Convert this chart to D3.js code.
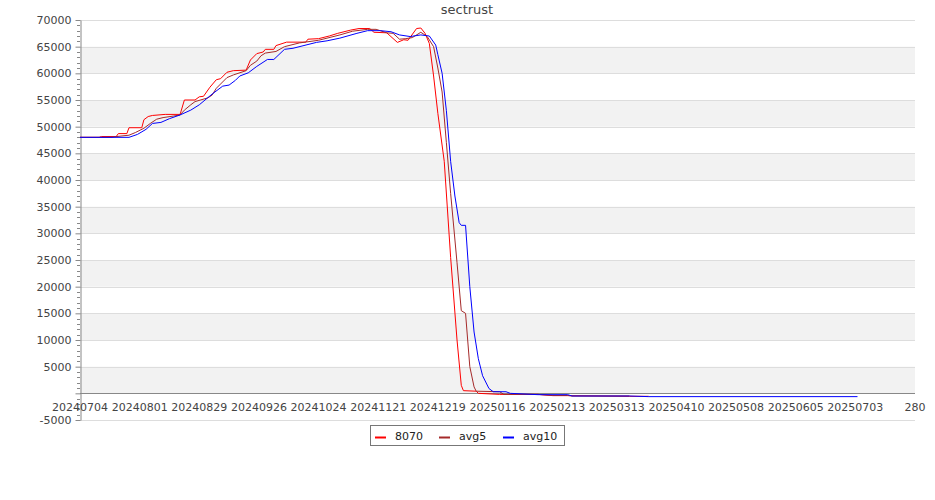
<!DOCTYPE html>
<html>
<head>
<meta charset="utf-8">
<script src="https://cdn.jsdelivr.net/npm/d3@7"></script>
<style>
  html, body { margin: 0; padding: 0; background: #fff; }
  svg { display: block; font-family: "DejaVu Sans", sans-serif; }
</style>
</head>
<body>
<svg id="chart" width="935" height="500"></svg>
<script>
// ---------------- data ----------------
const chartTitle = "sectrust";
const seriesNames = ["8070", "avg5", "avg10"];
const seriesColors = ["#ff0000", "#a52a2a", "#0000ff"];

const dates8070 = ["20240704","20240713","20240714","20240721","20240722","20240726","20240727","20240802","20240803","20240805","20240807","20240813","20240820","20240822","20240827","20240829","20240831","20240903","20240906","20240908","20240911","20240914","20240920","20240922","20240925","20240928","20240929","20241003","20241004","20241009","20241018","20241019","20241024","20241029","20241102","20241108","20241112","20241117","20241119","20241125","20241130","20241203","20241205","20241209","20241211","20241213","20241215","20241217","20241219","20241222","20241225","20241228","20241230","20241231","20250106","20250107","20250117","20250204","20250211","20250218","20250319","20250328"];
const values8070 = [48000,48000,48150,48150,48700,48700,49800,49800,51300,51900,52100,52300,52300,55000,55000,55600,55700,57400,58800,59000,60200,60500,60600,62500,63700,64000,64500,64500,65200,65850,65850,66400,66500,67000,67500,68100,68400,68400,67700,67600,65800,66300,66200,68400,68500,67500,65600,59500,52500,43500,25500,10000,1500,500,400,0,-200,-200,-430,-430,-560,-560];

const datesAvg5 = ["20240704","20240719","20240720","20240727","20240730","20240803","20240806","20240809","20240812","20240817","20240820","20240822","20240825","20240827","20240902","20240904","20240906","20240911","20240914","20240920","20240922","20240925","20240927","20240929","20241004","20241008","20241015","20241024","20241103","20241109","20241116","20241120","20241125","20241128","20241201","20241204","20241207","20241211","20241214","20241217","20241219","20241221","20241223","20241225","20241228","20241230","20250101","20250103","20250105","20250106","20250117","20250119","20250204","20250211","20250218","20250220","20250319"];
const valuesAvg5 = [48000,48000,48100,48400,48900,49700,50600,51400,51700,52000,52200,53100,54100,54700,55400,55900,57200,59200,59700,60500,61500,62300,63300,63800,64100,65000,65700,66200,67200,67900,68250,68250,67600,67500,66400,66500,66700,67700,66900,65000,61000,56500,47000,37500,24500,15500,15000,5000,1200,400,300,-200,-200,-400,-400,-500,-500];

const datesAvg10 = ["20240704","20240727","20240731","20240804","20240807","20240811","20240815","20240820","20240825","20240829","20240904","20240909","20240912","20240915","20240917","20240921","20240925","20240930","20241003","20241008","20241012","20241023","20241028","20241103","20241111","20241116","20241122","20241127","20241201","20241206","20241211","20241215","20241218","20241219","20241221","20241223","20241225","20241227","20241229","20241230","20250101","20250103","20250105","20250107","20250109","20250112","20250114","20250120","20250122","20250204","20250218","20250220","20250319","20250328","20250704"];
const valuesAvg10 = [48000,48000,48550,49500,50600,50800,51500,52200,53100,54100,56100,57600,57800,58700,59500,60100,61300,62600,62600,64500,64700,65800,66100,66600,67500,68000,68000,67800,67200,66900,67200,67000,65300,63500,60000,53000,43500,37000,32000,31500,31500,20000,11500,6500,3300,900,300,300,0,-250,-250,-500,-500,-620,-620];

const xDomain = ["20240704", "20250731"];
const xTickDates = ["20240704","20240801","20240829","20240926","20241024","20241121","20241219","20250116","20250213","20250313","20250410","20250508","20250605","20250703","20250731"];
const xTickLabels = ["20240704","20240801","20240829","20240926","20241024","20241121","20241219","20250116","20250213","20250313","20250410","20250508","20250605","20250703","280"];
const yDomain = [-5000, 70000];
const yTicks = [-5000,0,5000,10000,15000,20000,25000,30000,35000,40000,45000,50000,55000,60000,65000,70000];
const yTickLabels = ["-5000","","5000","10000","15000","20000","25000","30000","35000","40000","45000","50000","55000","60000","65000","70000"];

// ---------------- drawing ----------------
const parse = d3.utcParse("%Y%m%d");
const svg = d3.select("#chart");
const L = 80, R = 915, T = 20, B = 420;

const x = d3.scaleUtc().domain(xDomain.map(parse)).range([L, R]);
const y = d3.scaleLinear().domain(yDomain).range([B, T]);

// alternating bands
const bandG = svg.append("g");
for (let i = 0; i < yTicks.length - 1; i++) {
  const lo = yTicks[i], hi = yTicks[i + 1];
  if (lo >= 0 && (lo / 5000) % 2 === 0) {
    bandG.append("rect")
      .attr("x", L).attr("width", R - L)
      .attr("y", y(hi)).attr("height", y(lo) - y(hi))
      .attr("fill", "#f2f2f2");
  }
}

// grid lines
svg.append("g").selectAll("line").data(yTicks).join("line")
  .attr("x1", L).attr("x2", R)
  .attr("y1", d => Math.round(y(d)) + 0.5).attr("y2", d => Math.round(y(d)) + 0.5)
  .attr("stroke", "#dddddd").attr("stroke-width", 1);

// x axis line at zero
svg.append("line")
  .attr("x1", L).attr("x2", R)
  .attr("y1", Math.round(y(0)) + 0.5).attr("y2", Math.round(y(0)) + 0.5)
  .attr("stroke", "#888").attr("stroke-width", 1);

// y axis
const yAxis = d3.axisLeft(y)
  .tickValues(yTicks)
  .tickFormat((d, i) => yTickLabels[i])
  .tickSize(5).tickSizeOuter(0);
const yG = svg.append("g").attr("transform", `translate(${L + 0.5},0)`).call(yAxis);
yG.select(".domain").attr("stroke", "#888");
yG.selectAll(".tick line").attr("stroke", "#888");
yG.selectAll(".tick text").attr("fill", "#444").attr("font-size", 11)
  .attr("font-family", "DejaVu Sans").attr("x", -9);
// minor ticks
const minor = d3.range(yDomain[0], yDomain[1] + 1, 1000).filter(v => v % 5000 !== 0);
svg.append("g").selectAll("line").data(minor).join("line")
  .attr("x1", L - 3).attr("x2", L)
  .attr("y1", d => Math.round(y(d)) + 0.5).attr("y2", d => Math.round(y(d)) + 0.5)
  .attr("stroke", "#888");

// x tick labels
svg.append("g").selectAll("text").data(xTickDates).join("text")
  .attr("x", d => x(parse(d)))
  .attr("y", 411)
  .attr("text-anchor", "middle")
  .attr("font-size", 11).attr("fill", "#444")
  .text((d, i) => xTickLabels[i]);

// lines
const seriesData = [
  dates8070.map((d, i) => ({ date: parse(d), value: values8070[i] })),
  datesAvg5.map((d, i) => ({ date: parse(d), value: valuesAvg5[i] })),
  datesAvg10.map((d, i) => ({ date: parse(d), value: valuesAvg10[i] }))
];
const line = d3.line().x(d => x(d.date)).y(d => y(d.value));
svg.append("g").selectAll("path").data(seriesData).join("path")
  .attr("d", line)
  .attr("fill", "none")
  .attr("stroke", (d, i) => seriesColors[i])
  .attr("stroke-width", 1);

// title
svg.append("text")
  .attr("x", 467).attr("y", 14)
  .attr("text-anchor", "middle")
  .attr("font-size", 13).attr("fill", "#444")
  .text(chartTitle);

// legend
const lg = svg.append("g");
lg.append("rect").attr("x", 370.5).attr("y", 425.5).attr("width", 194).attr("height", 20)
  .attr("fill", "#fff").attr("stroke", "#777");
const legX = [375, 439, 503];
seriesNames.forEach((n, i) => {
  lg.append("line").attr("x1", legX[i]).attr("x2", legX[i] + 11)
    .attr("y1", 437.5).attr("y2", 437.5)
    .attr("stroke", seriesColors[i]).attr("stroke-width", 2);
  lg.append("text").attr("x", legX[i] + 20).attr("y", 440)
    .attr("font-size", 11).attr("fill", "#222").text(n);
});
</script>
</body>
</html>
